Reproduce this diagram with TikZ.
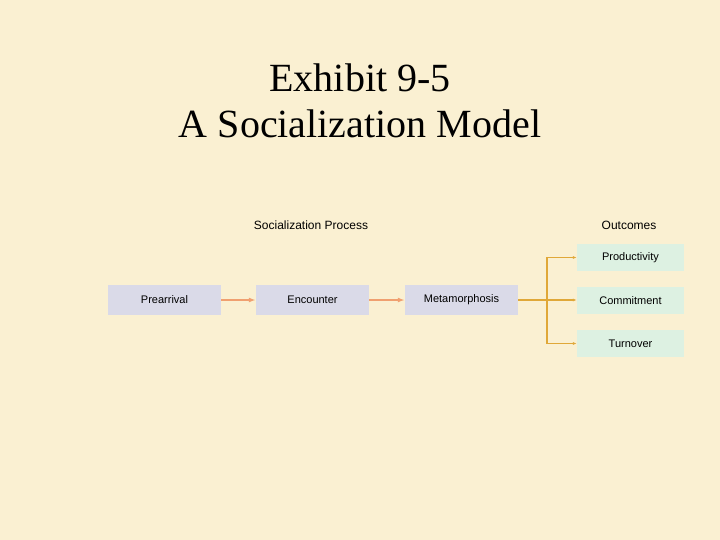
\documentclass[tikz,border=0pt]{standalone}
\usepackage{fontspec}
\setmainfont{Liberation Serif}
\setsansfont{Liberation Sans}
\begin{document}
\begin{tikzpicture}[x=1pt,y=-1pt,
 box/.style={fill=stepB,minimum width=113pt,minimum height=30pt,inner sep=0pt,font=\sffamily\fontsize{11}{13}\selectfont},
 obox/.style={fill=outB,minimum width=107pt,minimum height=27pt,inner sep=0pt,font=\sffamily\fontsize{11}{13}\selectfont},
 oarr/.style={draw=arrO,line width=1.5pt,-{Latex[length=7pt,width=5pt]}},
 garr/.style={draw=arrG,line width=1.5pt,-{Latex[length=4pt,width=3pt]}},
 hdr/.style={font=\sffamily\fontsize{12}{14}\selectfont}]
\usetikzlibrary{arrows.meta}
\definecolor{bg}{HTML}{FAF0D2}
\definecolor{stepB}{HTML}{DADAE8}
\definecolor{outB}{HTML}{DDF1E2}
\definecolor{arrO}{HTML}{F0A070}
\definecolor{arrG}{HTML}{E0A838}
\fill[bg] (0,0) rectangle (720,540);
\node[font=\fontsize{40}{46}\selectfont,align=center] (title) at (360,101) {Exhibit 9-5\\A Socialization Model};
\node[hdr] (h1) at (311,225) {Socialization Process};
\node[hdr] (h2) at (629,225) {Outcomes};
\node[box] (pre) at (164.5,300) {Prearrival};
\node[box] (enc) at (312.5,300) {Encounter};
\node[box] (met) at (461.5,300) {Metamorphosis};
\node[obox] (pro) at (630.5,257.5) {Productivity};
\node[obox] (com) at (630.5,300.5) {Commitment};
\node[obox] (tur) at (630.5,343.5) {Turnover};
\draw[oarr] (pre) -- (enc);
\draw[oarr] (enc) -- (met);
\coordinate (j) at (547,300);
\draw[draw=arrG,line width=1.5pt] (met.east) -- (j);
\draw[garr] (j) |- (pro.west);
\draw[garr] (j) -- (com.west |- j);
\draw[garr] (j) |- (tur.west);
\end{tikzpicture}
\end{document}
